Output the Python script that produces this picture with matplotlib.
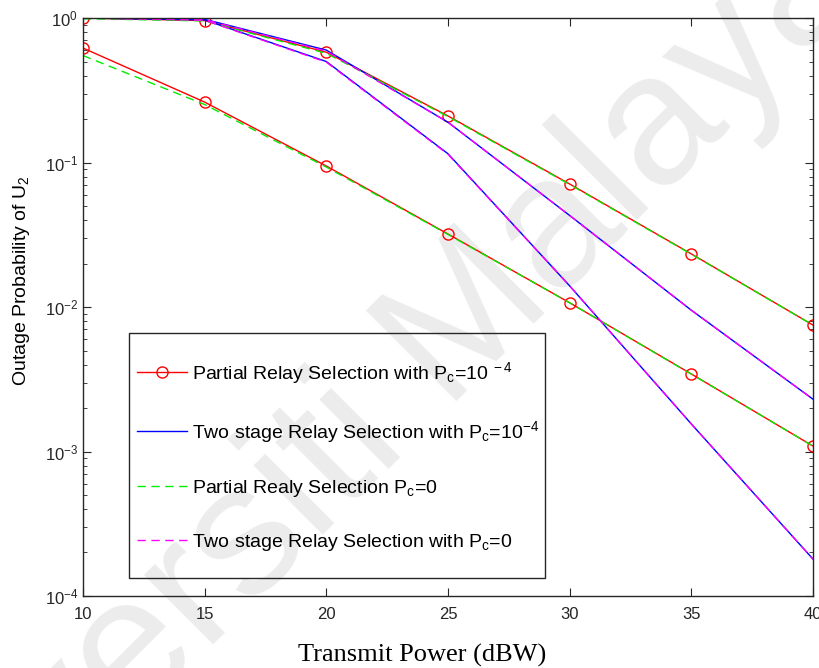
import matplotlib
matplotlib.use('Agg')
import matplotlib.pyplot as plt
from matplotlib.patches import Rectangle

# transmit power (dBW)
snr = [10, 15, 20, 25, 30, 35, 40]

# partial relay selection, Pc = 1e-4 (two curves)
partial_pc4_hi = [1.0, 0.96, 0.58, 0.21, 0.071, 0.0233, 0.0075]
partial_pc4_lo = [0.62, 0.262, 0.0946, 0.032, 0.0107, 0.00344, 0.00109]

# partial relay selection, Pc = 0
partial_pc0_hi = [0.99, 0.955, 0.57, 0.208, 0.0705, 0.0232, 0.0075]
partial_pc0_lo = [0.55, 0.252, 0.093, 0.0318, 0.0107, 0.00343, 0.00109]

# two stage relay selection, Pc = 1e-4
twostage_pc4_hi = [1.0, 0.98, 0.6, 0.19, 0.043, 0.0095, 0.0023]
twostage_pc4_lo = [1.0, 0.97, 0.5, 0.115, 0.014, 0.00155, 0.00018]

# two stage relay selection, Pc = 0
twostage_pc0_hi = [1.0, 0.975, 0.59, 0.19, 0.043, 0.0095, 0.0023]
twostage_pc0_lo = [1.0, 0.965, 0.495, 0.114, 0.014, 0.00155, 0.00018]

labels = [
    r'Partial Relay Selection with P$_{\rm c}$=10$^{\ -4}$',
    r'Two stage Relay Selection with P$_{\rm c}$=10$^{-4}$',
    r'Partial Realy Selection P$_{\rm c}$=0',
    r'Two stage Relay Selection with P$_{\rm c}$=0',
]

plt.rcParams['font.family'] = ['Liberation Sans', 'DejaVu Sans']
plt.rcParams['mathtext.fontset'] = 'custom'
plt.rcParams['mathtext.rm'] = 'Liberation Sans'
plt.rcParams['mathtext.it'] = 'Liberation Sans:italic'

fig = plt.figure(figsize=(8.19, 6.68), dpi=100)
ax = fig.add_axes([0.1013, 0.1078, 0.8914, 0.8652])
ax.set_facecolor('none')

# faint watermark behind the plot
fig.text(0.41, 0.32, 'Universiti Malaya', fontsize=134, color='#ececec',
         rotation=45, ha='center', va='center', zorder=-1)

lw = 1.0
dash = (6, 4)
h1, = ax.plot(snr, partial_pc4_hi, color='#ff0000', lw=lw, marker='o',
              markersize=8, markerfacecolor='none', markeredgewidth=1.0)
ax.plot(snr, partial_pc4_lo, color='#ff0000', lw=lw, marker='o',
        markersize=8, markerfacecolor='none', markeredgewidth=1.0)
h2, = ax.plot(snr, twostage_pc4_hi, color='#0000ff', lw=lw)
ax.plot(snr, twostage_pc4_lo, color='#0000ff', lw=lw)
h3, = ax.plot(snr, partial_pc0_hi, color='#00ee00', lw=lw, dashes=dash)
ax.plot(snr, partial_pc0_lo, color='#00ee00', lw=lw, dashes=dash)
h4, = ax.plot(snr, twostage_pc0_hi, color='#ff00ff', lw=lw, dashes=dash)
ax.plot(snr, twostage_pc0_lo, color='#ff00ff', lw=lw, dashes=dash)

ax.set_yscale('log')
ax.set_xlim(10, 40)
ax.set_ylim(1e-4, 1)
ax.set_xticks(snr)

axis_col = '#262626'
for s in ax.spines.values():
    s.set_color(axis_col)
    s.set_linewidth(1.0)
ax.tick_params(which='both', direction='in', top=True, right=True,
               colors=axis_col, labelsize=12)
ax.tick_params(axis='x', pad=8)
ax.tick_params(which='major', length=6)
ax.tick_params(which='minor', length=3)

ax.set_xlabel('Transmit Power (dBW)', family='Liberation Serif',
              fontsize=19)
ax.xaxis.set_label_coords(0.465, -0.083)
ax.set_ylabel(r'Outage Probability of U$_2$', fontsize=14)
ax.yaxis.set_label_coords(-0.07, 0.545)

leg = ax.legend([h1, h2, h3, h4], labels, loc='center',
                bbox_to_anchor=(0.350, 0.241), fontsize=14, numpoints=1,
                handlelength=2.57, handletextpad=0.26, labelspacing=1.7,
                borderpad=0.2, frameon=False, borderaxespad=0)

# legend box, drawn separately to get the tall/narrow padding of the original
ax.add_patch(Rectangle((0.063, 0.031), 0.570, 0.424, transform=ax.transAxes,
                       fill=False, edgecolor=axis_col, lw=1.0, zorder=5))

fig.savefig('out.png', dpi=100)
